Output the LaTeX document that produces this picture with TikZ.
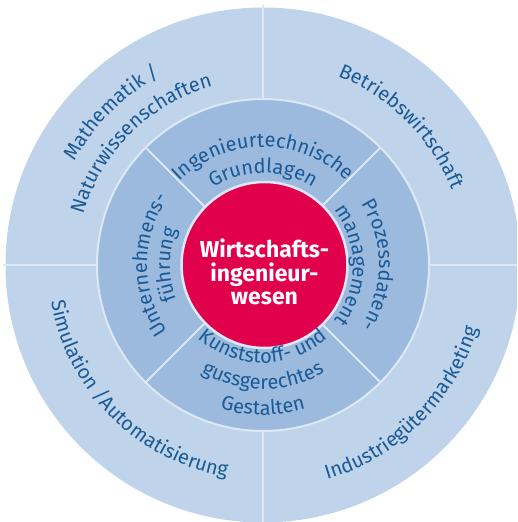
\documentclass[tikz,border=0pt]{standalone}
\usepackage{fontspec}
\setmainfont{Fira Sans}
\usetikzlibrary{decorations.text}
\definecolor{ringlight}{HTML}{BFD4EA}
\definecolor{ringdark}{HTML}{9BBADD}
\definecolor{seam}{HTML}{DDE8F4}
\definecolor{corered}{HTML}{E1004B}
\definecolor{labelblue}{HTML}{1A5A97}
\newcommand{\ringfont}{\fontsize{20}{20}\selectfont}
\tikzset{
  seamline/.style={seam, line width=2pt},
  arclabel/.style={decorate, decoration={text along path, text align=center,
      text color=labelblue, text={|\ringfont|#1}}}
}

\begin{document}
\begin{tikzpicture}
        \useasboundingbox (-263pt,-257pt) rectangle (254pt,265pt);
        \clip (-263pt,-257pt) rectangle (254pt,265pt);
        % rings
        \fill [ringlight] (0,0) circle (257.5pt);
        \draw [seamline, fill=ringdark] (0,0) circle (166pt);
        % spokes
        \foreach \a in {0,90,180,270} \draw [seamline] (\a:166pt) -- (\a:260pt);
        \foreach \a in {45,135,225,315} \draw [seamline] (\a:83pt) -- (\a:166pt);
        % core
        \node (core) [circle, fill=corered, draw=seam, line width=2.5pt, minimum size=166pt, inner sep=0pt] at (1.5pt,0) {};
        \node (corelabel) [text=white, align=center, font=\bfseries\fontsize{23}{23.5}\selectfont]
            at ([yshift=-7pt]core.center) {Wirtschafts-\\ingenieur-\\wesen};
        % outer ring labels
        \path [arclabel={Mathematik /}] (180:215pt) arc [start angle=180, end angle=90, radius=215pt];
        \path [arclabel={Naturwissenschaften}] (180:186pt) arc [start angle=180, end angle=90, radius=186pt];
        \path [arclabel={Betriebswirtschaft}] (90:203pt) arc [start angle=90, end angle=0, radius=203pt];
        \path [arclabel={Industriegütermarketing}] (-90:224pt) arc [start angle=-90, end angle=0, radius=224pt];
        \path [arclabel={Simulation /Automatisierung}] (180:215pt) arc [start angle=180, end angle=270, radius=215pt];
        % inner ring labels
        \path [arclabel={Ingenieurtechnische}] (170:118pt) arc [start angle=170, end angle=10, radius=118pt];
        \path [arclabel={Grundlagen}] (170:92pt) arc [start angle=170, end angle=10, radius=92pt];
        \path [arclabel={Prozessdaten-}] (80:116pt) arc [start angle=80, end angle=-80, radius=116pt];
        \path [arclabel={management}] (80:90pt) arc [start angle=80, end angle=-80, radius=90pt];
        \path [arclabel={Unternehmens-}] (260:116pt) arc [start angle=260, end angle=100, radius=116pt];
        \path [arclabel={führung}] (260:93pt) arc [start angle=260, end angle=100, radius=93pt];
        \path [arclabel={Kunststoff- und}] (190:98pt) arc [start angle=190, end angle=350, radius=98pt];
        \path [arclabel={gussgerechtes}] (190:124pt) arc [start angle=190, end angle=350, radius=124pt];
        \path [arclabel={Gestalten}] (190:150pt) arc [start angle=190, end angle=350, radius=150pt];
    \end{tikzpicture}
\end{document}
